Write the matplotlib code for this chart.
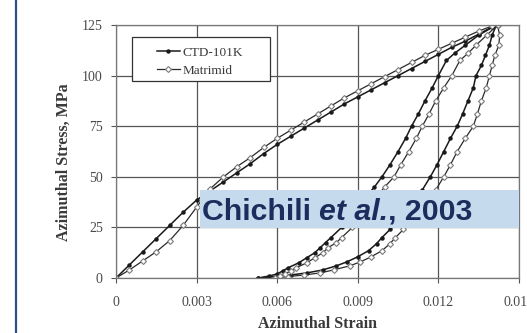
import matplotlib
matplotlib.use("Agg")
import matplotlib.pyplot as plt
from matplotlib.patches import Rectangle
from matplotlib.lines import Line2D

# loading branch, origin -> peak
strain_load_ctd = [0, .0005, .001, .0015, .002, .0025, .003, .0035, .004, .0045, .005, .0055, .006, .0065, .007,
                   .0075, .008, .0085, .009, .0095, .010, .0105, .011, .0115, .012, .0125, .013, .0135, .014, .01416]
stress_load_ctd = [0, 6.5, 13, 19.5, 26, 32.5, 38.5, 43, 47.5, 52, 56.5, 61.5, 66, 70, 74,
                   78, 82, 86, 89.5, 93, 96.5, 100, 103.5, 107, 110.5, 114, 117, 120.5, 124, 125]
strain_load_mat = [0, .0005, .001, .0015, .002, .0025, .003, .0035, .004, .0045, .005, .0055, .006, .0065, .007,
                   .0075, .008, .0085, .009, .0095, .010, .0105, .011, .0115, .012, .0125, .013, .0135, .014, .0142]
stress_load_mat = [0, 4, 8.5, 13, 18.5, 26, 35, 44, 50, 55, 59.5, 64.5, 69, 73, 77,
                   81, 85, 89, 92.5, 96, 99.5, 103, 106.5, 110, 113, 116, 119, 122, 124.5, 125]

# unloading branch, peak -> residual strain
stress_unload = [125, 120, 115, 110, 105, 100, 94, 87.5, 81, 75, 69, 62.5, 56, 50, 43.5,
                 35, 29, 24, 20, 17, 13.5, 10.5, 8, 6, 4, 2.5, 1.5, 0.7, 0]
strain_unload_ctd = [0.01416, 0.0140, 0.0139, 0.01375, 0.0136, 0.0134, 0.0133, 0.0131, 0.0129, 0.0127,
                     0.01245, 0.0122, 0.01195, 0.0117, 0.0114, 0.0109, 0.01055, 0.0102, 0.0099, 0.0097,
                     0.0094, 0.0090, 0.0086, 0.0082, 0.0077, 0.0071, 0.0065, 0.0059, 0.0053]
strain_unload_mat = [0.0142, 0.01428, 0.01425, 0.0141, 0.0140, 0.0139, 0.01378, 0.0136, 0.01345, 0.0133,
                     0.0130, 0.0127, 0.01245, 0.0122, 0.0119, 0.0114, 0.0110, 0.0107, 0.0104, 0.0102,
                     0.0099, 0.0095, 0.0091, 0.0087, 0.0081, 0.0076, 0.0070, 0.0064, 0.0059]

# reloading branch, residual -> peak
stress_reload = [0, 1, 2, 3.5, 5, 7.5, 10, 12.5, 15, 17.5, 20, 25, 30, 35, 40,
                 45, 50, 56, 62.5, 69, 75, 81, 87.5, 94, 100, 107.5, 111, 115, 120, 125]
strain_reload_ctd = [0.0053, 0.0057, 0.0060, 0.0062, 0.0064, 0.0068, 0.0071, 0.0074, 0.0076, 0.0078,
                     0.0080, 0.0084, 0.0087, 0.0090, 0.0093, 0.00962, 0.0099, 0.0102, 0.0105, 0.01078,
                     0.0110, 0.01125, 0.0115, 0.01177, 0.0120, 0.0123, 0.0126, 0.0130, 0.0135, 0.01416]
strain_reload_mat = [0.0059, 0.0061, 0.0063, 0.0065, 0.0067, 0.0071, 0.0074, 0.0077, 0.0079, 0.0082,
                     0.0084, 0.0088, 0.0091, 0.0094, 0.0097, 0.0100, 0.01035, 0.0106, 0.0109, 0.01118,
                     0.0114, 0.01165, 0.0119, 0.0122, 0.0125, 0.0128, 0.0131, 0.0134, 0.0138, 0.0142]

x_ticks = [0, 0.003, 0.006, 0.009, 0.012, 0.015]
x_labels = ["0", "0.003", "0.006", "0.009", "0.012", "0.015"]
y_ticks = [0, 25, 50, 75, 100, 125]

serif = "Liberation Serif"
txt_col = "#3a3a3a"
tick_col = "#4a4a4a"

fig = plt.figure(figsize=(5.27, 3.33), dpi=100)
fig.patch.set_facecolor("white")
ax = fig.add_axes([116/527, 1 - 278/333, 403/527, 253/333])

ctd_style = dict(color="#1a1a1a", lw=1.1, marker="o", markersize=2.2,
                 markerfacecolor="#1a1a1a", markeredgecolor="#1a1a1a")
mat_style = dict(color="#2a2a2a", lw=0.9, marker="D", markersize=3.0,
                 markerfacecolor="white", markeredgecolor="#7a7a7a", markeredgewidth=0.8)

ax.plot(strain_load_ctd, stress_load_ctd, label="CTD-101K", **ctd_style)
ax.plot(strain_unload_ctd, stress_unload, **ctd_style)
ax.plot(strain_reload_ctd, stress_reload, **ctd_style)
ax.plot(strain_load_mat, stress_load_mat, label="Matrimid", **mat_style)
ax.plot(strain_unload_mat, stress_unload, **mat_style)
ax.plot(strain_reload_mat, stress_reload, **mat_style)

ax.set_xlim(0, 0.015)
ax.set_ylim(0, 125)
ax.set_xticks(x_ticks)
ax.set_xticklabels(x_labels)
ax.set_yticks(y_ticks)
ax.grid(True, color="#555555", lw=0.9)
ax.set_axisbelow(True)
for s in ax.spines.values():
    s.set_color("#777777")
    s.set_linewidth(0.9)
ax.tick_params(direction="out", length=3.5, color="#555555", labelcolor=tick_col, labelsize=10)
ax.tick_params(axis="x", pad=9.5)
ax.tick_params(axis="y", pad=6)
for lab in ax.get_xticklabels() + ax.get_yticklabels():
    lab.set_fontfamily(serif)

ax.set_xlabel("Azimuthal Strain", fontfamily=serif, fontweight="bold", fontsize=11.5, color=txt_col)
ax.set_ylabel("Azimuthal Stress, MPa", fontfamily=serif, fontweight="bold", fontsize=11.5, color=txt_col)
ax.xaxis.set_label_coords(0.5, -0.152)
ax.yaxis.set_label_coords(-0.109, 0.458)

# legend: frame drawn separately because the box is wider than its content
ax.add_patch(Rectangle((16/403, 197/253), 138/403, 44/253, transform=ax.transAxes,
                       facecolor="white", edgecolor="#333333", lw=0.9, zorder=4))
leg = ax.legend(loc="upper left", bbox_to_anchor=(34/403, 238/253), frameon=False,
                borderpad=0, labelspacing=0.45, handlelength=1.8, handletextpad=0.15,
                prop={"family": serif, "size": 9.5})
leg.set_zorder(5)
for t in leg.get_texts():
    t.set_color(txt_col)

# citation banner
ax.add_patch(Rectangle((84/403, 50/253), 319/403, 38/253, transform=ax.transAxes,
                       facecolor="#c6daee", edgecolor="none", zorder=6, clip_on=False))
navy = "#1b2d5c"
fs = 21.8
t1 = ax.text(86/403, 52/253, "Chichili ", transform=ax.transAxes, fontsize=fs,
             fontfamily="Liberation Sans", fontweight="bold", color=navy, zorder=7, va="bottom")
t2 = ax.annotate("et al.", xy=(1, 0), xycoords=t1, va="bottom", ha="left", fontsize=fs,
                 fontfamily="Liberation Sans", fontweight="bold", fontstyle="italic", color=navy, zorder=7)
t3 = ax.annotate(", 2003", xy=(1, 0), xycoords=t2, va="bottom", ha="left", fontsize=fs,
                 fontfamily="Liberation Sans", fontweight="bold", color=navy, zorder=7)

# blue rule at the left edge of the slide
fig.add_artist(Line2D([15.5/527, 15.5/527], [0, 1], color="#2e4d8c", lw=1.6))

fig.savefig("out.png", dpi=100)
